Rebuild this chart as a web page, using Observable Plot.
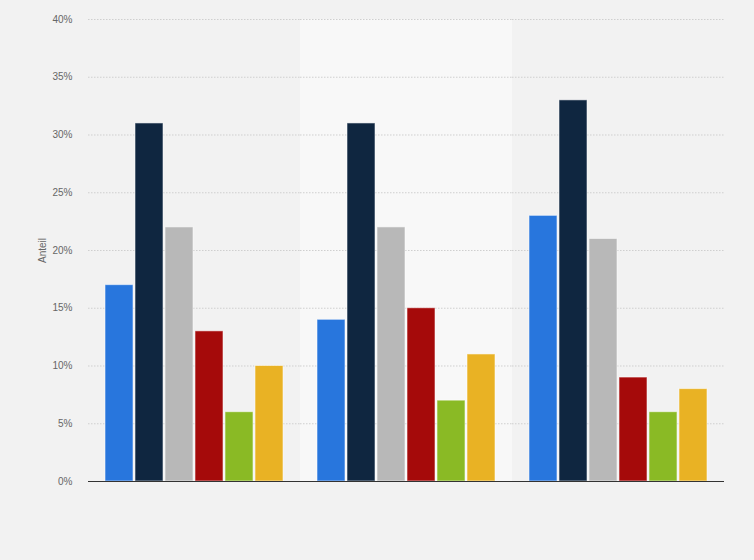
<!DOCTYPE html>
<html>
<head>
<meta charset="utf-8">
<script src="https://cdn.jsdelivr.net/npm/d3@7"></script>
<script src="https://cdn.jsdelivr.net/npm/@observablehq/plot@0.6"></script>
<style>
  html, body { margin: 0; padding: 0; background: #f2f2f2; }
  #chart { width: 754px; height: 560px; }
</style>
</head>
<body>
<div id="chart"></div>
<script>
const groups = ["Gruppe 1", "Gruppe 2", "Gruppe 3"];
const series = ["Serie 1", "Serie 2", "Serie 3", "Serie 4", "Serie 5", "Serie 6"];
const colors = ["#2876dd", "#0f2640", "#b8b8b8", "#a50a0a", "#8aba25", "#e9b224"];
const values = [
  [17, 31, 22, 13, 6, 10],
  [14, 31, 22, 15, 7, 11],
  [23, 33, 21, 9, 6, 8]
];
const yTicks = [0, 5, 10, 15, 20, 25, 30, 35, 40];
const highlightGroup = ["Gruppe 2"];

const data = [];
groups.forEach((g, gi) => series.forEach((s, si) => data.push({group: g, series: s, value: values[gi][si] / 100})));

const chart = Plot.plot({
  width: 754,
  height: 560,
  marginLeft: 88,
  marginRight: 30,
  marginTop: 19,
  marginBottom: 79,
  style: {background: "transparent", fontFamily: "'Liberation Sans', Arial, sans-serif", fontSize: "10px", color: "#666"},
  fx: {domain: groups, padding: 0, axis: null},
  x: {domain: series, paddingInner: 0.08, paddingOuter: 0.53, axis: null},
  y: {domain: [0, 0.40]},
  color: {domain: series, range: colors},
  marks: [
    Plot.rect(highlightGroup, {fx: d => d, fill: "#f8f8f8"}),
    Plot.gridY(yTicks.map(d => d / 100), {stroke: "#cfcfcf", strokeOpacity: 1, strokeDasharray: "1.5,1.5"}),
    Plot.axisY(yTicks.map(d => d / 100), {
      tickFormat: d => Math.round(d * 100) + "%",
      tickSize: 0,
      tickPadding: 16,
      label: "Anteil",
      labelAnchor: "center",
      labelArrow: "none",
      labelOffset: 50,
      fill: "#666"
    }),
    Plot.barY(data, {fx: "group", x: "series", y: "value", fill: "series", stroke: "#ffffff", strokeOpacity: 0.55, strokeWidth: 1}),
    Plot.ruleY([0], {stroke: "#333", strokeWidth: 1})
  ]
});
document.getElementById("chart").appendChild(chart);
</script>
</body>
</html>
